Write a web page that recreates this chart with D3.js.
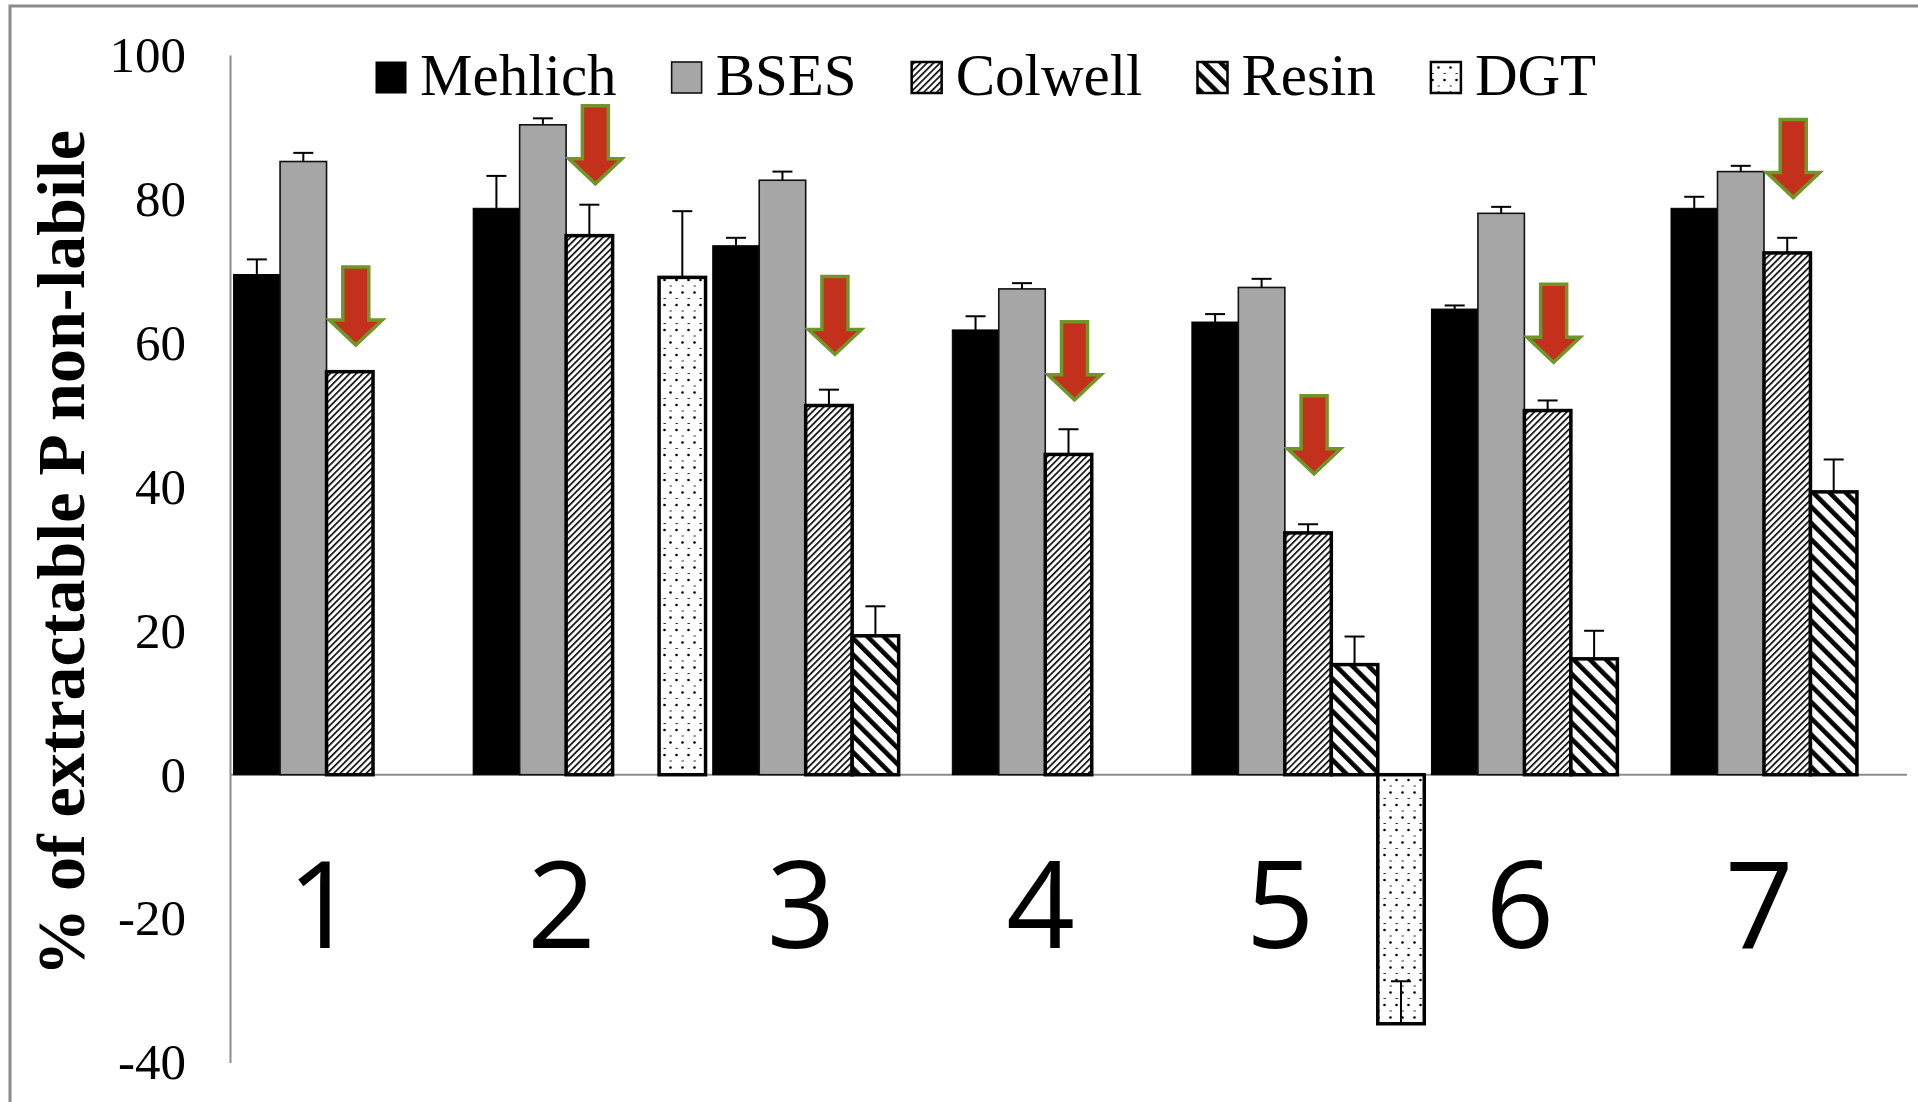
<!DOCTYPE html>
<html>
<head>
<meta charset="utf-8">
<script src="https://cdn.jsdelivr.net/npm/d3@7"></script>
<style>
  html, body { margin: 0; padding: 0; background: #fff; }
  svg { display: block; }
</style>
</head>
<body>
<svg id="chart" width="1918" height="1102"></svg>
<script>
// Soils (categories) and extraction methods (series)
const categories = ["1", "2", "3", "4", "5", "6", "7"];
const seriesNames = ["Mehlich", "BSES", "Colwell", "Resin", "DGT"];

// % of extractable P that is non-labile, per soil
const mehlich    = [69.5, 78.7, 73.5, 61.8, 62.9, 64.7, 78.7];
const mehlichErr = [2.1, 4.5, 1.1, 1.9, 1.1, 0.5, 1.6];
const bses       = [85.2, 90.3, 82.6, 67.5, 67.7, 78.0, 83.8];
const bsesErr    = [1.2, 0.9, 1.2, 0.8, 1.2, 0.9, 0.8];
const colwell    = [56.0, 74.9, 51.3, 44.5, 33.6, 50.6, 72.5];
const colwellErr = [null, 4.3, 2.2, 3.5, 1.2, 1.4, 2.1];
const resin      = [null, null, 19.3, null, 15.3, 16.1, 39.3];
const resinErr   = [null, null, 4.1, null, 3.9, 3.9, 4.5];
const dgt        = [null, 69.1, null, null, -34.6, null, null];
const dgtErr     = [null, 9.2, null, null, 5.9, null, null];

// Value (in axis units) at which each highlight arrow points down to
const arrowTip = [59.7, 82.1, 58.4, 52.1, 41.8, 57.3, 80.2];

const yTicks = [-40, -20, 0, 20, 40, 60, 80, 100];

const svg = d3.select("#chart");
const defs = svg.append("defs");

// Fill patterns for the hatched / dotted methods
const pColwell = defs.append("pattern").attr("id", "pat-colwell")
  .attr("patternUnits", "userSpaceOnUse").attr("width", 4.6).attr("height", 4.6)
  .attr("patternTransform", "rotate(45)");
pColwell.append("rect").attr("width", 4.6).attr("height", 4.6).attr("fill", "#fff");
pColwell.append("rect").attr("x", 0).attr("width", 1.6).attr("height", 4.6).attr("fill", "#000");

const pResin = defs.append("pattern").attr("id", "pat-resin")
  .attr("patternUnits", "userSpaceOnUse").attr("width", 11.5).attr("height", 11.5)
  .attr("patternTransform", "rotate(-45)");
pResin.append("rect").attr("width", 11.5).attr("height", 11.5).attr("fill", "#fff");
pResin.append("rect").attr("x", 0).attr("width", 4.6).attr("height", 11.5).attr("fill", "#000");

const pDgt = defs.append("pattern").attr("id", "pat-dgt")
  .attr("patternUnits", "userSpaceOnUse").attr("width", 12).attr("height", 25);
pDgt.append("rect").attr("width", 12).attr("height", 25).attr("fill", "#fff");
pDgt.append("circle").attr("cx", 4.5).attr("cy", 5).attr("r", 1.3).attr("fill", "#000");
pDgt.append("circle").attr("cx", 10.5).attr("cy", 17.5).attr("r", 1.3).attr("fill", "#000");
pDgt.append("rect").attr("x", 9.5).attr("y", 10.5).attr("width", 2.4).attr("height", 1).attr("fill", "#333");
pDgt.append("rect").attr("x", 3.5).attr("y", 23).attr("width", 2.4).attr("height", 1).attr("fill", "#333");

const series = [
  { name: "Mehlich", values: mehlich, err: mehlichErr, fill: "#000", stroke: "#000", sw: 1 },
  { name: "BSES",    values: bses,    err: bsesErr,    fill: "#a6a6a6", stroke: "#111", sw: 1.6 },
  { name: "Colwell", values: colwell, err: colwellErr, fill: "url(#pat-colwell)", stroke: "#000", sw: 3.5 },
  { name: "Resin",   values: resin,   err: resinErr,   fill: "url(#pat-resin)", stroke: "#000", sw: 3.5 },
  { name: "DGT",     values: dgt,     err: dgtErr,     fill: "url(#pat-dgt)", stroke: "#000", sw: 3.5 }
];

// Scales
const y = d3.scaleLinear().domain([-40, 100]).range([1062.6, 55]);
const x0 = d3.scaleBand().domain(categories).range([230, 1907])
  .paddingInner(0.03).paddingOuter(0.015);
const x1 = d3.scaleBand().domain(seriesNames).range([0, x0.bandwidth()]);

// Outer chart frame
svg.append("rect").attr("x", 10).attr("y", 6).attr("width", 2000).attr("height", 1200)
  .attr("fill", "none").attr("stroke", "#8a8a8a").attr("stroke-width", 3);

// Zero baseline
svg.append("line")
  .attr("x1", x0.range()[0]).attr("x2", x0.range()[1])
  .attr("y1", y(0)).attr("y2", y(0))
  .attr("stroke", "#8c8c8c").attr("stroke-width", 2);

// Bars
const barData = [];
series.forEach(s => {
  s.values.forEach((v, i) => {
    if (v == null) return;
    barData.push({ s, cat: categories[i], v, e: s.err[i] });
  });
});

svg.append("g").selectAll("rect").data(barData).join("rect")
  .attr("x", d => x0(d.cat) + x1(d.s.name))
  .attr("y", d => y(Math.max(d.v, 0)))
  .attr("width", x1.bandwidth())
  .attr("height", d => Math.abs(y(d.v) - y(0)))
  .attr("fill", d => d.s.fill)
  .attr("stroke", d => d.s.stroke)
  .attr("stroke-width", d => d.s.sw);

// Error bars (plus direction)
const eb = svg.append("g").attr("stroke", "#000").attr("stroke-width", 2);
barData.filter(d => d.e != null).forEach(d => {
  const cx = x0(d.cat) + x1(d.s.name) + x1.bandwidth() / 2;
  eb.append("line").attr("x1", cx).attr("x2", cx).attr("y1", y(d.v)).attr("y2", y(d.v + d.e));
  eb.append("line").attr("x1", cx - 10).attr("x2", cx + 10).attr("y1", y(d.v + d.e)).attr("y2", y(d.v + d.e));
});

// Highlight arrows above the Colwell bars
const arrowG = svg.append("g");
categories.forEach((c, i) => {
  const cx = x0(c) + x1("Colwell") + x1.bandwidth() / 2 + 6;
  const ty = y(arrowTip[i]);
  const p = [
    [cx - 13, ty - 78], [cx + 13, ty - 78], [cx + 13, ty - 25], [cx + 26.5, ty - 25],
    [cx, ty], [cx - 26.5, ty - 25], [cx - 13, ty - 25]
  ];
  arrowG.append("path")
    .attr("d", "M" + p.map(q => q.join(",")).join("L") + "Z")
    .attr("fill", "#c3301b").attr("stroke", "#6f9628").attr("stroke-width", 3.5)
    .attr("stroke-linejoin", "miter");
});

// Y axis
const yAxis = d3.axisLeft(y).tickValues(yTicks).tickFormat(d => String(d))
  .tickSize(0).tickSizeOuter(0).tickPadding(44);
const yg = svg.append("g").attr("transform", "translate(230,0)").call(yAxis);
yg.select(".domain").attr("stroke", "#8c8c8c").attr("stroke-width", 2);
yg.selectAll("text")
  .attr("font-family", "'Liberation Serif', 'Times New Roman', serif")
  .attr("font-size", 51).attr("fill", "#000");

// Y axis title
svg.append("text")
  .attr("transform", "translate(84,553) rotate(-90)")
  .attr("text-anchor", "middle")
  .attr("font-family", "'Liberation Serif', 'Times New Roman', serif")
  .attr("font-weight", "bold").attr("font-size", 68)
  .text("% of extractable P non-labile");

// Soil labels
svg.append("g").selectAll("text").data(categories).join("text")
  .attr("x", d => x0(d) + x0.bandwidth() * 0.38)
  .attr("y", 948)
  .attr("text-anchor", "middle")
  .attr("font-family", "'Open Sans', 'Noto Sans', sans-serif")
  .attr("font-size", 120).attr("fill", "#000")
  .text(d => d);

// Legend
const legend = svg.append("g");
let lx = 376;
series.forEach(s => {
  legend.append("rect").attr("x", lx).attr("y", 62).attr("width", 30).attr("height", 31)
    .attr("fill", s.fill).attr("stroke", s.stroke)
    .attr("stroke-width", s.name === "Mehlich" ? 1 : (s.name === "BSES" ? 1.6 : 2.5));
  const t = legend.append("text").attr("x", lx + 44).attr("y", 95)
    .attr("font-family", "'Liberation Serif', 'Times New Roman', serif")
    .attr("font-size", 59).attr("fill", "#000").text(s.name);
  lx += 44 + t.node().getComputedTextLength() + 55;
});
</script>
</body>
</html>
